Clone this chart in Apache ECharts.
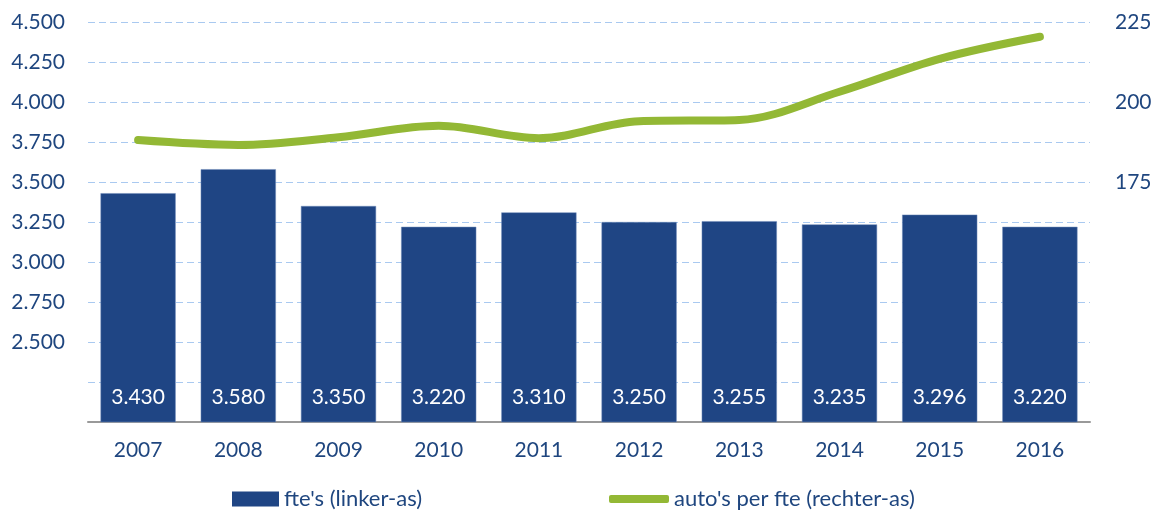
<!DOCTYPE html>
<html>
<head>
<meta charset="utf-8">
<script src="https://cdn.jsdelivr.net/npm/echarts@6/dist/echarts.min.js"></script>
<style>
  html, body { margin: 0; padding: 0; background: #fff; }
  #chart { width: 1157px; height: 518px; }
</style>
</head>
<body>
<div id="chart"></div>
<script>
  // data
  var years = ['2007', '2008', '2009', '2010', '2011', '2012', '2013', '2014', '2015', '2016'];
  var fte = [3430, 3580, 3350, 3220, 3310, 3250, 3255, 3235, 3296, 3220];
  var autosPerFte = [188.1, 186.6, 189.0, 192.6, 188.7, 194.0, 194.4, 203.2, 213.5, 220.4];
  var leftTicks = [2500, 2750, 3000, 3250, 3500, 3750, 4000, 4250, 4500];
  var rightTicks = [175, 200, 225];

  var textColor = '#1F467F';
  var font = 'Lato';

  function dotted(v) {
    // 3430 -> 3.430
    var s = String(Math.round(v));
    return s.replace(/\B(?=(\d{3})+(?!\d))/g, '.');
  }

  var chart = echarts.init(document.getElementById('chart'));
  chart.setOption({
    animation: false,
    textStyle: { fontFamily: font },
    grid: { left: 88, right: 67, top: 22, bottom: 96 },
    legend: [
      {
        left: 232, bottom: 8, padding: 0,
        itemWidth: 47, itemHeight: 15,
        itemStyle: { borderWidth: 0 },
        textStyle: { color: textColor, fontSize: 22, fontFamily: font },
        data: [{ name: "fte's (linker-as)", icon: 'rect' }]
      },
      {
        left: 609, bottom: 8, padding: 0,
        itemWidth: 60, itemHeight: 8,
        itemStyle: { borderWidth: 0 },
        textStyle: { color: textColor, fontSize: 22, fontFamily: font },
        data: [{ name: "auto's per fte (rechter-as)", icon: 'roundRect' }]
      }
    ],
    xAxis: {
      type: 'category',
      data: years,
      axisTick: { show: false },
      axisLine: { lineStyle: { color: '#999999', width: 2 } },
      axisLabel: { color: textColor, fontSize: 21, margin: 18 }
    },
    yAxis: [
      {
        type: 'value',
        min: 2000, max: 4500, interval: 250,
        axisLine: { show: false },
        axisTick: { show: false },
        axisLabel: {
          color: textColor, fontSize: 21, margin: 23,
          formatter: function (v) { return leftTicks.indexOf(v) >= 0 ? dotted(v) : ''; }
        },
        splitLine: { lineStyle: { color: '#A9C9F0', type: [7, 4], width: 1 } }
      },
      {
        type: 'value',
        min: 100, max: 225, interval: 25,
        axisLine: { show: false },
        axisTick: { show: false },
        splitLine: { show: false },
        axisLabel: {
          color: textColor, fontSize: 21, margin: 25,
          formatter: function (v) { return rightTicks.indexOf(v) >= 0 ? String(v) : ''; }
        }
      }
    ],
    series: [
      {
        name: "fte's (linker-as)",
        type: 'bar',
        data: fte,
        barWidth: '75%',
        itemStyle: { color: '#1F4584', borderColor: '#6E8BB8', borderWidth: 0.5 },
        label: {
          show: true,
          position: 'insideBottom',
          distance: 15,
          color: '#ffffff',
          fontSize: 21,
          formatter: function (p) { return dotted(p.value); }
        }
      },
      {
        name: "auto's per fte (rechter-as)",
        type: 'line',
        yAxisIndex: 1,
        data: autosPerFte,
        smooth: 0.35,
        showSymbol: false,
        symbol: 'none',
        lineStyle: { color: '#93B835', width: 8, cap: 'round' },
        itemStyle: { color: '#93B835' }
      }
    ]
  });
</script>
</body>
</html>
